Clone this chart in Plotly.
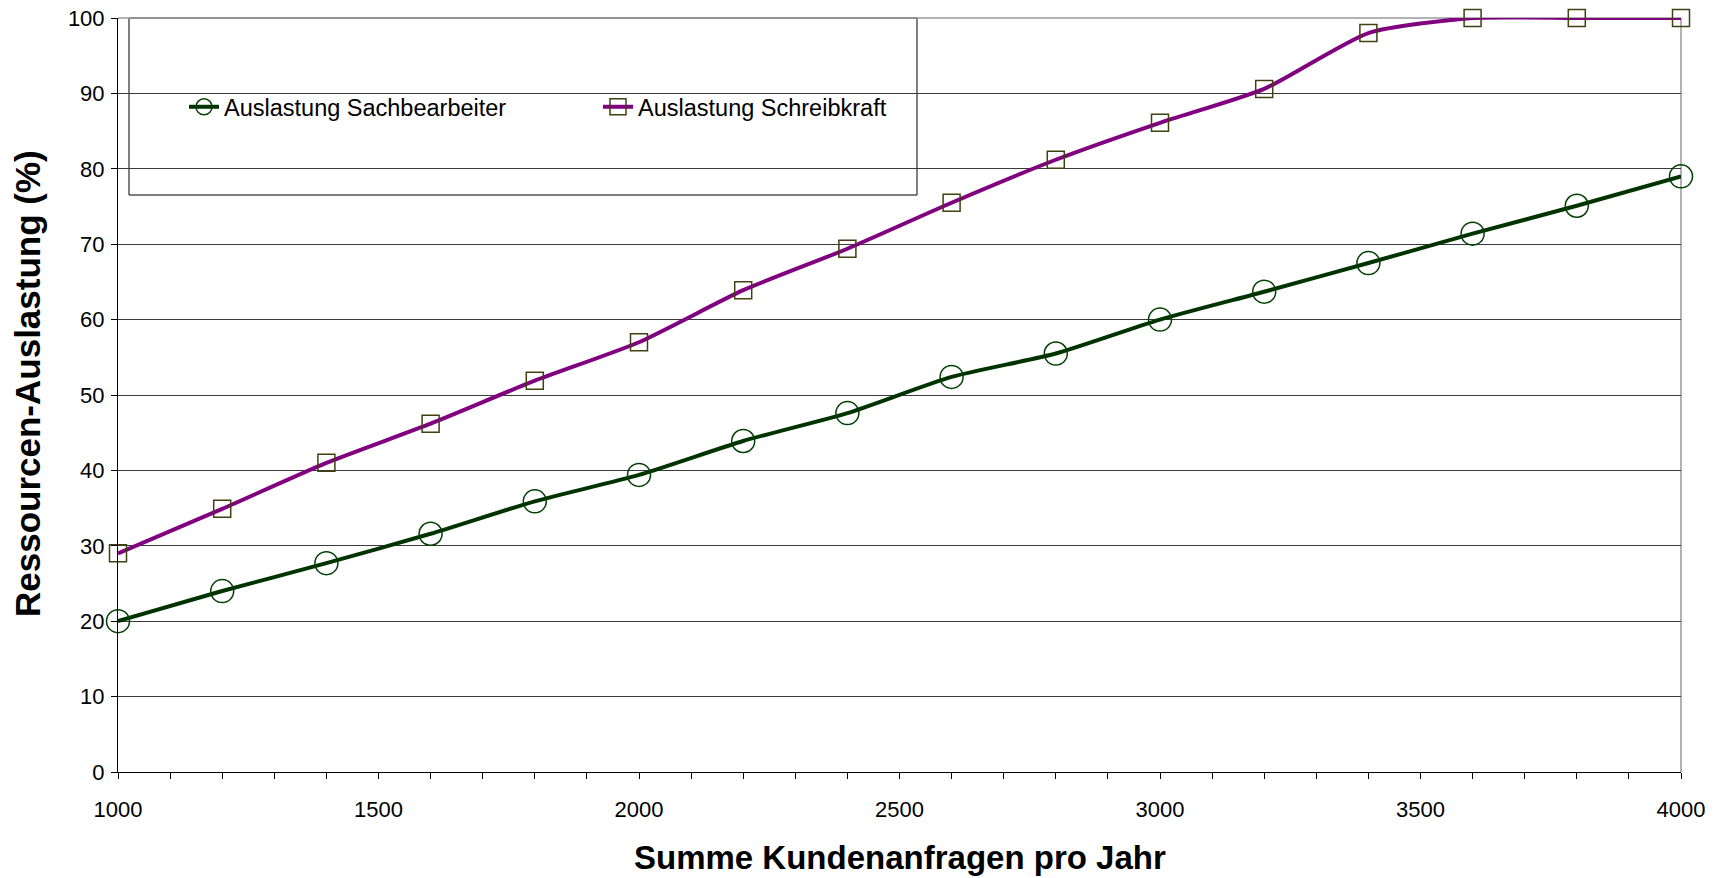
import plotly.graph_objects as go

anfragen = [1000, 1200, 1400, 1600, 1800, 2000, 2200, 2400, 2600, 2800, 3000, 3200, 3400, 3600, 3800, 4000]
sachbearbeiter = [20.0, 24.0, 27.7, 31.6, 35.9, 39.4, 43.9, 47.6, 52.4, 55.5, 60.0, 63.7, 67.5, 71.4, 75.1, 79.0]
schreibkraft = [29.0, 34.9, 41.0, 46.2, 51.9, 57.0, 63.9, 69.4, 75.5, 81.2, 86.1, 90.6, 98.0, 100.0, 100.0, 100.0]

name_sach = "Auslastung Sachbearbeiter"
name_schreib = "Auslastung Schreibkraft"
x_title = "Summe Kundenanfragen pro Jahr"
y_title = "Ressourcen-Auslastung (%)"

FONT = "Liberation Sans, Arial, sans-serif"

W, H = 1717, 878
L, R, T, B = 118, 36, 18, 106
PW, PH = W - L - R, H - T - B

def px_x(px):
    return (px - L) / PW

def px_y(py):
    return (H - B - py) / PH

fig = go.Figure()
fig.add_trace(go.Scatter(
    x=anfragen, y=sachbearbeiter, name=name_sach, mode="lines+markers",
    line=dict(color="#003300", width=4, shape="spline", smoothing=0.6),
    marker=dict(symbol="circle-open", size=23, color="#004000", line=dict(width=1.5, color="#004000")),
    cliponaxis=False,
))
fig.add_trace(go.Scatter(
    x=anfragen, y=schreibkraft, name=name_schreib, mode="lines+markers",
    line=dict(color="#800080", width=4, shape="spline", smoothing=0.6),
    marker=dict(symbol="square-open", size=17, color="#404010", line=dict(width=1.5, color="#404010")),
    cliponaxis=False,
))

fig.update_layout(
    width=W, height=H,
    margin=dict(l=L, r=R, t=T, b=B, autoexpand=False),
    paper_bgcolor="white", plot_bgcolor="white",
    font=dict(family=FONT, size=22, color="black"),
    showlegend=True,
    legend=dict(
        orientation="h", x=px_x(184), y=px_y(107), xanchor="left", yanchor="middle",
        bgcolor="rgba(0,0,0,0)", borderwidth=0,
        font=dict(size=23.5), entrywidth=369, entrywidthmode="pixels",
        itemsizing="trace",
    ),
    xaxis=dict(
        range=[1000, 4000], dtick=500, tick0=1000,
        showgrid=False, zeroline=False, automargin=False,
        showline=True, linecolor="black", linewidth=1,
        ticks="outside", ticklen=6, tickcolor="black",
        minor=dict(dtick=100, ticks="outside", ticklen=6, tickcolor="black", showgrid=False),
        ticklabelstandoff=12,
    ),
    yaxis=dict(
        range=[0, 100], dtick=10,
        showgrid=True, gridcolor="#3a3a3a", gridwidth=1,
        zeroline=False, automargin=False,
        showline=True, linecolor="black", linewidth=1,
        ticks="outside", ticklen=6, tickcolor="black",
        ticklabelstandoff=2,
    ),
    annotations=[
        dict(text="<b>" + x_title + "</b>", xref="paper", yref="paper", x=0.5, y=px_y(857),
             xanchor="center", yanchor="middle", showarrow=False, font=dict(size=33)),
        dict(text="<b>" + y_title + "</b>", xref="paper", yref="paper", x=px_x(27), y=px_y(384),
             xanchor="center", yanchor="middle", showarrow=False, textangle=-90, font=dict(size=35)),
    ],
    shapes=[
        dict(type="rect", xref="paper", yref="paper", x0=px_x(129), x1=px_x(917),
             y0=px_y(195), y1=1.0, line=dict(color="black", width=1), fillcolor="rgba(0,0,0,0)", layer="below"),
        dict(type="line", xref="paper", yref="paper", x0=1, x1=1, y0=0, y1=1,
             line=dict(color="#999999", width=1.5), layer="below"),
        dict(type="line", xref="paper", yref="paper", x0=0, x1=1, y0=1, y1=1,
             line=dict(color="#999999", width=1.5), layer="below"),
    ],
)

fig.write_html("out.html", config={"displayModeBar": False},
               post_script="document.body.style.margin='0';document.body.style.overflow='hidden';")
